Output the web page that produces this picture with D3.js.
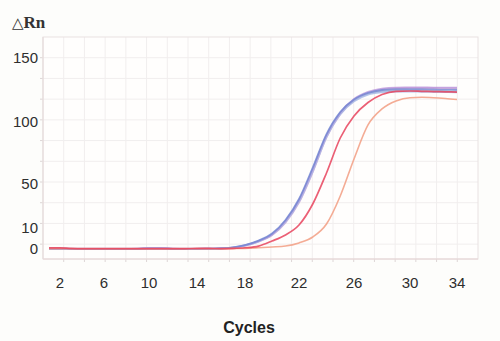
<!DOCTYPE html>
<html>
<head>
<meta charset="utf-8">
<script src="https://cdn.jsdelivr.net/npm/d3@7"></script>
<style>
  html, body { margin: 0; padding: 0; background: #fdfdfb; }
  svg { display: block; }
</style>
</head>
<body>
<svg id="chart" width="500" height="341"></svg>
<script>
// ---------- data ----------
const cycles = [1,2,3,4,5,6,7,8,9,10,11,12,13,14,15,16,17,18,19,20,21,22,23,24,25,26,27,28,29,30,31,32,33,34];
const xTicks = [2,6,10,14,18,22,26,30,34];
const yTicks = [0,10,50,100,150];

const blueA   = [0.2,0.2,0.1,0.1,0.1,0.1,0.1,0.1,0.1,0.2,0.2,0.1,0.1,0.1,0.2,0.3,0.8,1.9,4.0,7.4,17.3,36.4,63.3,90.3,107.8,117.6,122.7,125.0,125.6,125.6,125.6,125.4,125.3,125.2];
const blueB   = [0.1,0.1,0.1,0.1,0.1,0.1,0.1,0.1,0.1,0.3,0.3,0.1,0.1,0.1,0.1,0.3,0.7,1.7,3.6,6.8,15.6,34.0,60.5,88.0,106.2,116.3,121.5,123.4,124.0,124.0,123.8,123.6,123.5,123.3];
const purpleC = [0.1,0.1,0.1,0.1,0.1,0.1,0.1,0.1,0.2,0.4,0.4,0.2,0.1,0.1,0.2,0.3,0.7,1.8,3.8,7.0,16.5,35.5,62.2,89.5,107.5,118.0,123.6,126.2,127.0,127.1,127.1,127.0,127.0,126.9];
const pinkD   = [0.1,0.1,0.1,0.1,0.1,0.1,0.1,0.1,0.1,0.2,0.2,0.1,0.1,0.1,0.1,0.2,0.6,1.6,3.5,6.5,14.8,33.0,59.5,87.5,106.0,116.8,122.5,125.3,126.3,126.5,126.4,126.4,126.3,126.2];
const greyE   = [0.1,0.1,0.1,0.1,0.1,0.1,0.1,0.1,0.1,0.1,0.1,0.1,0.1,0.1,0.1,0.2,0.6,1.7,3.7,6.9,16.0,34.8,61.5,88.8,106.8,116.9,122.0,124.0,124.6,124.6,124.5,124.4,124.3,124.2];
const red     = [0.5,0.5,0.3,0.2,0.2,0.2,0.2,0.2,0.2,0.2,0.2,0.2,0.2,0.3,0.3,0.2,0.3,0.6,1.4,3.8,6.7,12.7,31.8,58.9,87.1,104.7,115.2,121.5,124.0,124.2,124.0,123.8,123.6,123.4];
const orange  = [0.1,0.1,0.1,0.1,0.1,0.1,0.1,0.1,0.1,0.1,0.1,0.1,0.1,0.1,0.1,0.1,0.2,0.3,0.6,0.95,1.4,2.9,5.7,13.6,39.1,70.2,97.6,110.2,116.4,119.0,119.3,119.0,118.4,117.6];

const series = [
  { name: "greyE",   values: greyE,   color: "#9fb0b4", width: 1.6, opacity: 0.6 },
  { name: "pinkD",   values: pinkD,   color: "#d99bd0", width: 1.7, opacity: 0.7 },
  { name: "blueB",   values: blueB,   color: "#a3b6e6", width: 2.2, opacity: 0.8 },
  { name: "purpleC", values: purpleC, color: "#b48ad8", width: 1.6, opacity: 0.7 },
  { name: "blueA",   values: blueA,   color: "#6f86d2", width: 1.8, opacity: 0.8 },
  { name: "orange",  values: orange,  color: "#f3a389", width: 1.6, opacity: 0.9 },
  { name: "red",     values: red,     color: "#e8435d", width: 1.7, opacity: 0.85 }
];

// ---------- layout ----------
const svg = d3.select("#chart");
const margin = { left: 43, top: 37 };
const width = 435, height = 222;

// the original axis spacing is uneven, so piecewise linear scales
const x = d3.scaleLinear()
  .domain(xTicks)
  .range([17, 61, 106, 154, 202, 256, 311, 367, 414]);
const y = d3.scaleLinear()
  .domain(yTicks)
  .range([212, 191, 147, 85, 21]);

const g = svg.append("g").attr("transform", `translate(${margin.left},${margin.top})`);

g.append("rect").attr("width", width).attr("height", height).attr("fill", "#fffefd");

// grid (square grid)
const step = width / 21;
const vx = d3.range(1, 21).map(i => i * step);
const hy = d3.range(1, Math.floor(height / step) + 1).map(i => i * step);
g.append("g").selectAll("line").data(vx).join("line")
  .attr("x1", d => d).attr("x2", d => d).attr("y1", 0).attr("y2", height)
  .attr("stroke", "#f1eeee").attr("stroke-width", 1);
g.append("g").selectAll("line").data(hy).join("line")
  .attr("y1", d => d).attr("y2", d => d).attr("x1", 0).attr("x2", width)
  .attr("stroke", "#f1eeee").attr("stroke-width", 1);

// small tick marks outside
g.append("g").selectAll("line").data(vx).join("line")
  .attr("x1", d => d).attr("x2", d => d).attr("y1", height).attr("y2", height + 3)
  .attr("stroke", "#ddd6d6");
g.append("g").selectAll("line").data(hy).join("line")
  .attr("y1", d => d).attr("y2", d => d).attr("x1", -3).attr("x2", 0)
  .attr("stroke", "#ddd6d6");

// border
g.append("rect").attr("width", width).attr("height", height)
  .attr("fill", "none").attr("stroke", "#e9e2e2").attr("stroke-width", 1);
g.append("line").attr("x1", 0).attr("x2", width).attr("y1", height).attr("y2", height)
  .attr("stroke", "#e6d4d4").attr("stroke-width", 1.2);
g.append("line").attr("x1", 0).attr("x2", 0).attr("y1", 0).attr("y2", height)
  .attr("stroke", "#e6dcdc").attr("stroke-width", 1.2);

// curves
const line = d3.line()
  .x((d, i) => x(cycles[i]))
  .y(d => y(d))
  .curve(d3.curveMonotoneX);

g.append("g").selectAll("path").data(series).join("path")
  .attr("d", s => line(s.values))
  .attr("fill", "none")
  .attr("stroke", s => s.color)
  .attr("stroke-width", s => s.width)
  .attr("stroke-opacity", s => s.opacity)
  .attr("stroke-linejoin", "round");

// axis labels
const tickFont = "'Liberation Sans', Arial, sans-serif";
g.append("g").selectAll("text").data(xTicks).join("text")
  .attr("x", d => x(d)).attr("y", 251)
  .attr("text-anchor", "middle")
  .attr("font-family", tickFont).attr("font-size", 15).attr("fill", "#2e2e2e")
  .text(d => d);
g.append("g").selectAll("text").data(yTicks).join("text")
  .attr("x", -5).attr("y", d => y(d)).attr("dy", "0.36em")
  .attr("text-anchor", "end")
  .attr("font-family", tickFont).attr("font-size", 15).attr("fill", "#2e2e2e")
  .text(d => d);

// titles
svg.append("text")
  .attr("x", 249).attr("y", 333)
  .attr("text-anchor", "middle")
  .attr("font-family", tickFont).attr("font-size", 16).attr("font-weight", "bold").attr("fill", "#222")
  .text("Cycles");

const yt = svg.append("text").attr("x", 12).attr("y", 28).attr("fill", "#333").attr("font-weight", "bold");
yt.append("tspan").attr("font-family", "'DejaVu Sans', sans-serif").attr("font-size", 15).text("△");
yt.append("tspan").attr("font-family", "'Liberation Serif', 'Times New Roman', serif").attr("font-size", 17).text("Rn");
</script>
</body>
</html>
